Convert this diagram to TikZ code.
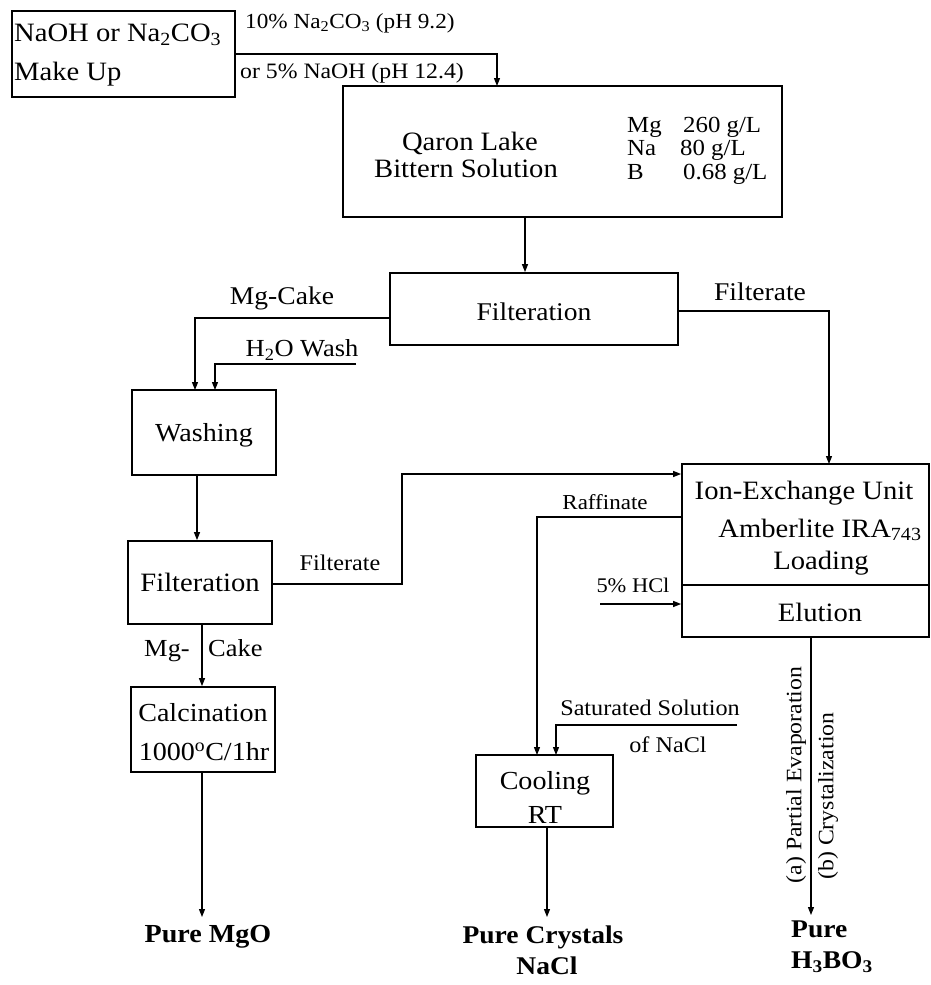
\documentclass[tikz,border=0pt]{standalone}
\usepackage{fontspec}
\setmainfont{Liberation Serif}[FakeStretch=1.08]
\usetikzlibrary{arrows.meta}
\newcommand\fsz[1]{\fontsize{#1}{#1}\selectfont}
\begin{document}
\begin{tikzpicture}[x=1pt,y=-1pt,
  box/.style={draw, line width=1.8pt, inner sep=0pt},
  conn/.style={line width=1.2pt},
  arr/.style={conn, -{Triangle[length=8pt,width=6pt]}},
  lbl/.style={inner sep=0pt}]
\useasboundingbox (0,0) rectangle (930,985);
% boxes
\node[box, minimum width=223pt, minimum height=86pt] (mk) at (123.5,54) {};
\node[box, minimum width=439pt, minimum height=131pt] (qa) at (562.5,151.5) {};
\node[box, minimum width=288pt, minimum height=72pt] (f1) at (534,309) {};
\node[box, minimum width=144pt, minimum height=85pt] (wa) at (204,432.5) {};
\node[box, minimum width=144pt, minimum height=83pt] (f2) at (200,582.5) {};
\node[box, minimum width=144pt, minimum height=85pt] (ca) at (203,729.5) {};
\node[box, minimum width=247pt, minimum height=173pt] (io) at (805.5,550.5) {};
\node[box, minimum width=137pt, minimum height=72pt] (co) at (544.5,791) {};
\coordinate (div) at (800,585);
\draw[line width=1.8pt] (io.west |- div) -- (io.east |- div);
% texts in boxes
\node[lbl, anchor=mid west] (t1) at (14,39) {\fsz{26.5}NaOH or Na\textsubscript{2}CO\textsubscript{3}};
\node[lbl, anchor=mid west] (t2) at (14,78) {\fsz{26.5}Make Up};
\node[lbl] (t3) at (470,143) {\fsz{26.5}Qaron Lake};
\node[lbl] (t4) at (466,168) {\fsz{26.5}Bittern Solution};
\node[lbl, anchor=mid west] (c1) at (627,130) {\fsz{23}Mg};
\node[lbl, anchor=mid west] (c2) at (683,130) {\fsz{23}260 g/L};
\node[lbl, anchor=mid west] (c3) at (627,153) {\fsz{23}Na};
\node[lbl, anchor=mid west] (c4) at (680,153) {\fsz{23}80 g/L};
\node[lbl, anchor=mid west] (c5) at (627,177) {\fsz{23}B};
\node[lbl, anchor=mid west] (c6) at (683,177) {\fsz{23}0.68 g/L};
\node[lbl] (t5) at (534,312) {\fsz{25.5}Filteration};
\node[lbl] (t6) at (204,435) {\fsz{26}Washing};
\node[lbl] (t7) at (200,582) {\fsz{26.5}Filteration};
\node[lbl] (t8) at (203,713) {\fsz{26}Calcination};
\node[lbl] (t9) at (204,752) {\fsz{26}1000\textsuperscript{o}C/1hr};
\node[lbl] (t10) at (804,493) {\fsz{26.5}Ion-Exchange Unit};
\node[lbl] (t11) at (820,530) {\fsz{26.5}Amberlite IRA\textsubscript{743}};
\node[lbl] (t12) at (821,563) {\fsz{26.5}Loading};
\node[lbl] (t13) at (820,612) {\fsz{26.5}Elution};
\node[lbl] (t14) at (545,783) {\fsz{26}Cooling};
\node[lbl] (t15) at (545,815) {\fsz{26}RT};
% connector labels
\node[lbl, anchor=mid west] (l1) at (245,26) {\fsz{21.5}10\% Na\textsubscript{2}CO\textsubscript{3} (pH 9.2)};
\node[lbl, anchor=mid west] (l2) at (240,76) {\fsz{22}or 5\% NaOH (pH 12.4)};
\node[lbl] (l3) at (282,298) {\fsz{25.5}Mg-Cake};
\node[lbl] (l4) at (760,292) {\fsz{25.5}Filterate};
\node[lbl] (l5) at (302,350) {\fsz{24.5}H\textsubscript{2}O Wash};
\node[lbl] (l6) at (340,563) {\fsz{22.4}Filterate};
\node[lbl, anchor=mid east] (l7) at (190,654) {\fsz{24.5}Mg-};
\node[lbl, anchor=mid west] (l8) at (208,654) {\fsz{24.5}Cake};
\node[lbl] (l9) at (605,502) {\fsz{21.3}Raffinate};
\node[lbl] (l10) at (633,585) {\fsz{20.8}5\% HCl};
\node[lbl] (l11) at (650,708) {\fsz{22.4}Saturated Solution};
\node[lbl] (l12) at (668,745) {\fsz{22.4}of NaCl};
\node[lbl, rotate=90] (l13) at (796,775) {\fsz{22}(a) Partial Evaporation};
\node[lbl, rotate=90] (l14) at (828,796) {\fsz{22}(b) Crystalization};
% products
\node[lbl] (p1) at (208,937) {\fsz{26}\bfseries Pure MgO};
\node[lbl] (p2) at (543,937) {\fsz{25.5}\bfseries Pure Crystals};
\node[lbl] (p3) at (547,966) {\fsz{25.5}\bfseries NaCl};
\node[lbl, anchor=mid west] (p4) at (791,935) {\fsz{25.5}\bfseries Pure};
\node[lbl, anchor=mid west] (p5) at (791,966) {\fsz{25.5}\bfseries H\textsubscript{3}BO\textsubscript{3}};
% coordinates
\coordinate (qin) at (497,86);
\coordinate (qx) at (525,0);
\coordinate (f1l) at (390,318);
\coordinate (wain1) at (195,390);
\coordinate (h2o) at (356,364);
\coordinate (wain2) at (215,390);
\coordinate (f1r) at (678,311);
\coordinate (ioin) at (829,464);
\coordinate (wx) at (197,0);
\coordinate (f2r) at (272,584);
\coordinate (bend) at (402,474);
\coordinate (cx) at (202,0);
\coordinate (mgo) at (202,917);
\coordinate (raf) at (682,517);
\coordinate (coin1) at (537,755);
\coordinate (sat) at (737,725);
\coordinate (coin2) at (556,755);
\coordinate (hcl) at (600,604);
\coordinate (ex) at (811,0);
\coordinate (hbo) at (811,915);
\coordinate (nx) at (547,0);
\coordinate (nacl) at (547,917);
% connectors
\draw[arr] (mk.east) -| (qin);
\draw[arr] (qa.south -| qx) -- (f1.north -| qx);
\draw[arr] (f1l) -| (wain1);
\draw[arr] (h2o) -| (wain2);
\draw[arr] (f1r) -| (ioin);
\draw[arr] (wa.south -| wx) -- (f2.north -| wx);
\draw[arr] (f2r) -| (bend) -- (io.west |- bend);
\draw[arr] (f2.south -| cx) -- (ca.north -| cx);
\draw[arr] (ca.south -| cx) -- (mgo);
\draw[arr] (raf) -| (coin1);
\draw[arr] (sat) -| (coin2);
\draw[arr] (hcl) -- (io.west |- hcl);
\draw[arr] (io.south -| ex) -- (hbo);
\draw[arr] (co.south -| nx) -- (nacl);
\end{tikzpicture}
\end{document}
